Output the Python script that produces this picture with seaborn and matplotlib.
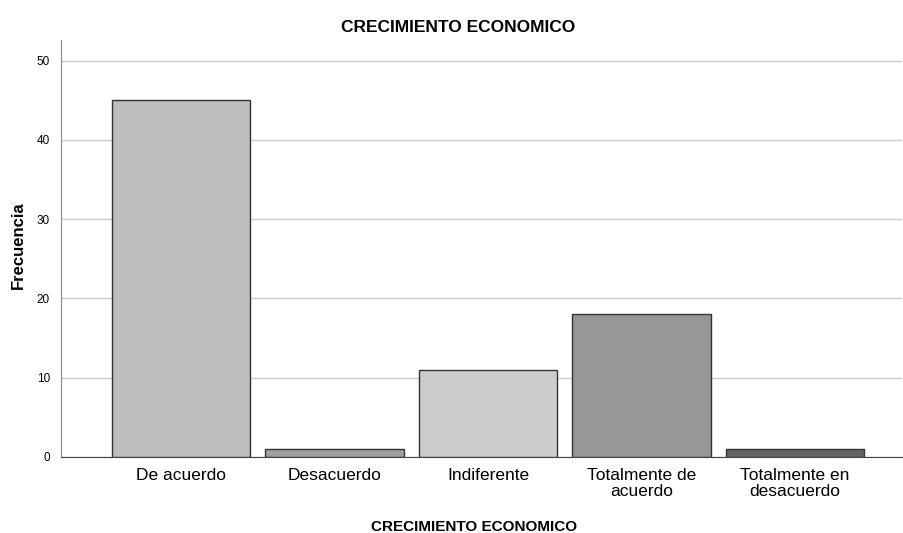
import pandas as pd
import matplotlib.pyplot as plt
import seaborn as sns

# datos
categorias = ['De acuerdo', 'Desacuerdo', 'Indiferente',
              'Totalmente de\nacuerdo', 'Totalmente en\ndesacuerdo']
frecuencia = [45, 1, 11, 18, 1]
colores = ['#bdbdbd', '#a0a0a0', '#cccccc', '#969696', '#646464']

df = pd.DataFrame({'cat': categorias, 'freq': frecuencia})

sns.set_style('white')
plt.rcParams['font.family'] = ['Liberation Sans', 'DejaVu Sans']
plt.rcParams['text.color'] = 'black'
plt.rcParams['xtick.color'] = 'black'
plt.rcParams['ytick.color'] = 'black'

fig = plt.figure(figsize=(9.04, 5.33), dpi=100)
ax = fig.add_axes([0.0675, 0.1426, 0.93, 0.7824])

sns.barplot(data=df, x='cat', y='freq', hue='cat', palette=colores,
            width=0.9, edgecolor='#333333', linewidth=1, legend=False,
            saturation=1, ax=ax, zorder=3)

ax.set_xlim(-0.782, 4.695)
ax.set_ylim(0, 52.6)
ax.set_yticks([0, 10, 20, 30, 40, 50])
ax.yaxis.grid(True, color='#cccccc', linewidth=1, zorder=0)
ax.set_axisbelow(True)

for s in ['top', 'right']:
    ax.spines[s].set_visible(False)
ax.spines['left'].set_color('#888888')
ax.spines['bottom'].set_color('#444444')
ax.tick_params(axis='both', length=0)
ax.tick_params(axis='y', labelsize=8.5, pad=8)
ax.tick_params(axis='x', labelsize=12.5, pad=8)
for t in ax.get_xticklabels():
    t.set_linespacing(1.1)

ax.set_xlabel('')
ax.set_ylabel('')
fig.text(458 / 904, 1 - 27 / 533, 'CRECIMIENTO ECONOMICO', fontsize=12.5,
         fontweight='bold', ha='center', va='center')
fig.text(474 / 904, 1 - 527 / 533, 'CRECIMIENTO ECONOMICO', fontsize=11,
         fontweight='bold', ha='center', va='center')
fig.text(18 / 904, 1 - 245 / 533, 'Frecuencia', fontsize=12, fontweight='bold',
         rotation=90, ha='center', va='center')

fig.savefig('out.png', dpi=100)
